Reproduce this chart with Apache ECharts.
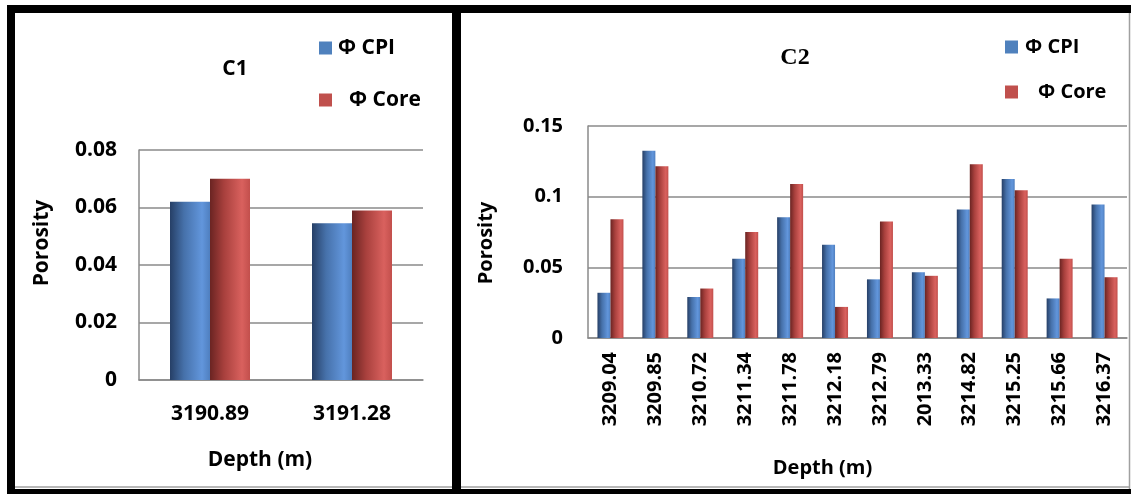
<!DOCTYPE html>
<html>
<head>
<meta charset="utf-8">
<title>Porosity: CPI vs Core (C1, C2)</title>
<script src="https://cdn.jsdelivr.net/npm/echarts@6/dist/echarts.min.js"></script>
<style>
  html, body { margin: 0; padding: 0; background: #ffffff; }
  #chart { width: 1131px; height: 494px; }
</style>
</head>
<body>
<div id="chart"></div>
<script>
// Well C1 samples
const c1Depths = ['3190.89', '3191.28'];
const c1Cpi = [0.062, 0.0545];
const c1Core = [0.070, 0.059];
const c1Ticks = [0, 0.02, 0.04, 0.06, 0.08];

// Well C2 samples
const c2Depths = ['3209.04', '3209.85', '3210.72', '3211.34', '3211.78', '3212.18',
                  '3212.79', '2013.33', '3214.82', '3215.25', '3215.66', '3216.37'];
const c2Cpi = [0.032, 0.1325, 0.029, 0.056, 0.0855, 0.066, 0.0415, 0.0465, 0.091, 0.1125, 0.028, 0.0945];
const c2Core = [0.084, 0.1215, 0.035, 0.075, 0.109, 0.022, 0.0825, 0.044, 0.123, 0.1045, 0.056, 0.043];
const c2Ticks = [0, 0.05, 0.1, 0.15];

const seriesNames = ['Φ CPI', 'Φ Core'];
const swatch = ['#4f81bd', '#c0504d'];

const FONT = '"Open Sans", "Liberation Sans", sans-serif';
const TXT = '#000000';
const GRID_LINE = '#8a8a8a';

// Cylinder-like shading across each bar
function shade(dark, mid, light, edge) {
  return new echarts.graphic.LinearGradient(0, 0, 1, 0, [
    { offset: 0, color: dark },
    { offset: 0.35, color: mid },
    { offset: 0.8, color: light },
    { offset: 1, color: edge }
  ]);
}
const cpiFill = shade('#263f66', '#4671aa', '#6296dc', '#4f7fbf');
const coreFill = shade('#6a2422', '#a8403d', '#d9615e', '#c24f4c');

function valueAxis(gridIndex, ticks, fontSize, margin, nameGap, namePad) {
  return {
    type: 'value',
    gridIndex: gridIndex,
    min: ticks[0],
    max: ticks[ticks.length - 1],
    interval: ticks[1] - ticks[0],
    name: 'Porosity',
    nameLocation: 'middle',
    nameGap: nameGap,
    nameRotate: 90,
    nameTextStyle: { fontFamily: FONT, fontWeight: 'bold', fontSize: fontSize, color: TXT, padding: namePad },
    axisLine: { show: true, lineStyle: { color: GRID_LINE, width: 1.5 } },
    axisTick: { show: false },
    axisLabel: {
      margin: margin, fontFamily: FONT, fontWeight: 'bold', fontSize: fontSize, color: TXT,
      formatter: function (v) {
        const hit = ticks.find(t => Math.abs(t - v) < 1e-9);
        return hit === undefined ? '' : String(hit);
      }
    },
    splitLine: { show: true, lineStyle: { color: GRID_LINE, width: 1.5 } }
  };
}

function barSeries(name, axisIndex, data, fill, width) {
  return {
    name: name,
    type: 'bar',
    xAxisIndex: axisIndex,
    yAxisIndex: axisIndex,
    data: data,
    barWidth: width,
    barGap: '0%',
    itemStyle: { color: fill },
    emphasis: { disabled: true }
  };
}

function legendBox(idx, left, top, textPad, fontSize) {
  return {
    data: [seriesNames[idx]],
    left: left,
    top: top,
    padding: 0,
    itemWidth: 13,
    itemHeight: 13,
    itemGap: 0,
    icon: 'rect',
    selectedMode: false,
    itemStyle: { color: swatch[idx] },
    textStyle: { fontFamily: FONT, fontWeight: 'bold', fontSize: fontSize, color: TXT,
                 lineHeight: 24, padding: [0, 0, 0, textPad] }
  };
}

const chart = echarts.init(document.getElementById('chart'), null, { renderer: 'canvas' });

chart.setOption({
  backgroundColor: '#ffffff',
  animation: false,
  title: [
    { text: 'C1', left: 235, top: 59, textAlign: 'center', padding: 0,
      textStyle: { fontFamily: FONT, fontWeight: 'bold', fontSize: 21, color: TXT } },
    { text: 'C2', left: 795, top: 46, textAlign: 'center', padding: 0,
      textStyle: { fontFamily: '"Liberation Serif", serif', fontWeight: 'bold', fontSize: 24, color: TXT } }
  ],
  legend: [
    legendBox(0, 319, 36, 1, 21),
    legendBox(1, 319, 88, 12, 21),
    legendBox(0, 1005, 35, 2, 20),
    legendBox(1, 1005, 80, 15, 20)
  ],
  grid: [
    { left: 139, top: 150, width: 284, height: 230 },
    { left: 588, top: 126, width: 539, height: 212 }
  ],
  xAxis: [
    {
      type: 'category', gridIndex: 0, data: c1Depths,
      name: 'Depth (m)', nameLocation: 'middle', nameGap: 70,
      nameTextStyle: { fontFamily: FONT, fontWeight: 'bold', fontSize: 21, color: TXT, padding: [0, 42, 0, 0] },
      axisLine: { lineStyle: { color: GRID_LINE, width: 1.5 } },
      axisTick: { show: false },
      axisLabel: { margin: 24, fontFamily: FONT, fontWeight: 'bold', fontSize: 21, color: TXT }
    },
    {
      type: 'category', gridIndex: 1, data: c2Depths,
      name: 'Depth (m)', nameLocation: 'middle', nameGap: 120,
      nameTextStyle: { fontFamily: FONT, fontWeight: 'bold', fontSize: 20, color: TXT, padding: [0, 70, 0, 0] },
      axisLine: { lineStyle: { color: GRID_LINE, width: 1.5 } },
      axisTick: { show: false },
      axisLabel: { margin: 14, rotate: 90, interval: 0, fontFamily: FONT, fontWeight: 'bold', fontSize: 20, color: TXT }
    }
  ],
  yAxis: [
    valueAxis(0, c1Ticks, 21, 22, 86, [0, 0, 0, 44]),
    valueAxis(1, c2Ticks, 20, 25, 92, [0, 22, 0, 0])
  ],
  series: [
    barSeries(seriesNames[0], 0, c1Cpi, cpiFill, 40),
    barSeries(seriesNames[1], 0, c1Core, coreFill, 40),
    barSeries(seriesNames[0], 1, c2Cpi, cpiFill, 13),
    barSeries(seriesNames[1], 1, c2Core, coreFill, 13)
  ],
  graphic: [
    // thin grey chart-area edges
    { type: 'line', shape: { x1: 15, y1: 487, x2: 1130, y2: 487 }, style: { stroke: '#a0a0a0', lineWidth: 1.5 }, silent: true },
    { type: 'line', shape: { x1: 1129.5, y1: 13, x2: 1129.5, y2: 489 }, style: { stroke: '#a0a0a0', lineWidth: 1.5 }, silent: true },
    // black panel frame
    { type: 'rect', shape: { x: 7, y: 5, width: 1124, height: 8 }, style: { fill: '#000' }, silent: true },
    { type: 'rect', shape: { x: 7, y: 5, width: 8, height: 489 }, style: { fill: '#000' }, silent: true },
    { type: 'rect', shape: { x: 452, y: 5, width: 9, height: 489 }, style: { fill: '#000' }, silent: true },
    { type: 'rect', shape: { x: 7, y: 489, width: 1124, height: 5 }, style: { fill: '#000' }, silent: true }
  ]
});
</script>
</body>
</html>
